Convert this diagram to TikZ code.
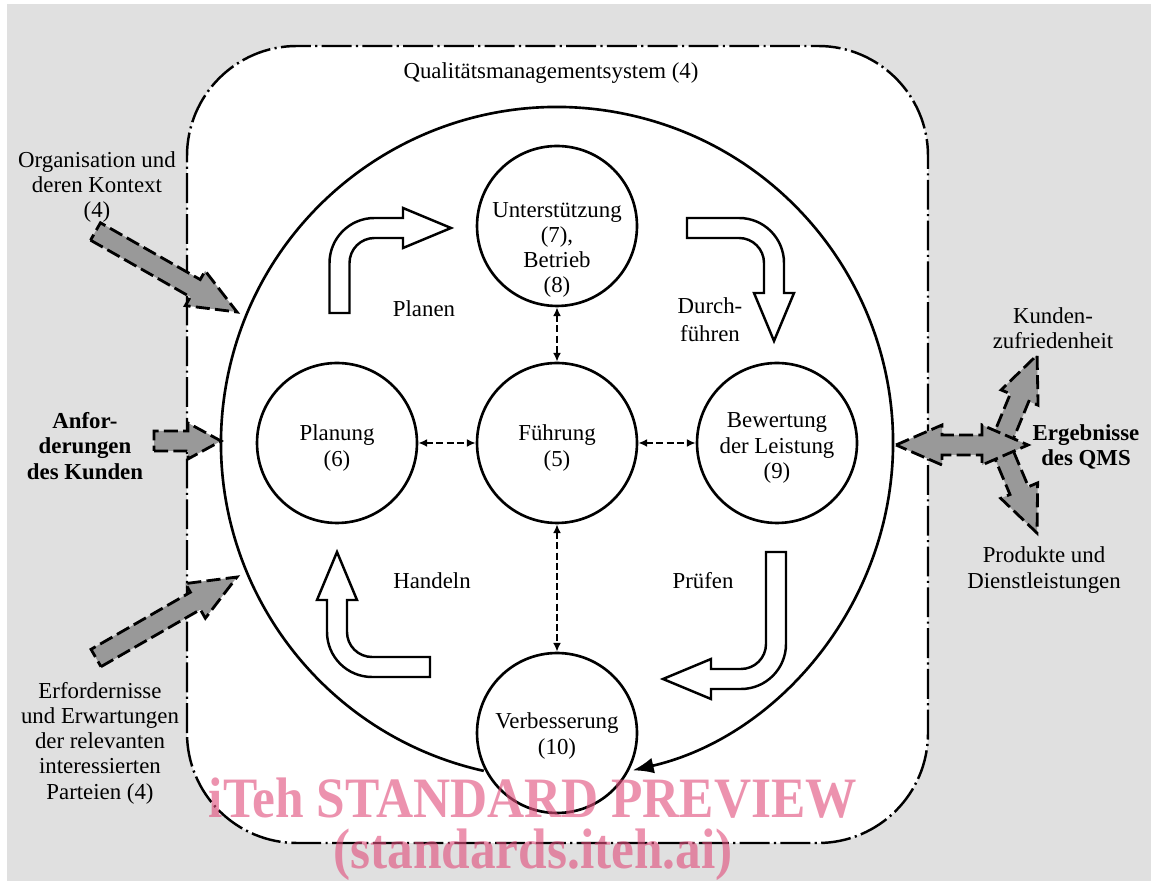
\documentclass[tikz,border=0pt]{standalone}
\usepackage{fontspec}
\setmainfont{Liberation Serif}
\usetikzlibrary{arrows.meta}
\definecolor{bggray}{RGB}{224,224,224}
\definecolor{arrgray}{RGB}{153,153,153}
\definecolor{wmpink}{RGB}{225,80,125}
\newcommand{\diagfont}{\fontsize{13}{14.4}\selectfont}
\tikzset{
  circ/.style={circle, draw, line width=1.5pt, fill=white, minimum size=3.2cm, inner sep=0pt},
  ctext/.style={align=center, font=\diagfont, inner sep=0pt, yshift=-0.1cm},
  lbl/.style={align=center, font=\diagfont, inner sep=0pt},
  blbl/.style={align=center, font=\diagfont\bfseries, inner sep=0pt},
  dconn/.style={line width=1pt, dash pattern=on 4pt off 1.8pt, {Latex[length=5pt,width=4.5pt]}-{Latex[length=5pt,width=4.5pt]}},
  bigarc/.style={line width=1.5pt, -{Latex[length=12pt,width=9pt]}},
  qmsbox/.style={fill=white, line width=1.4pt, dash pattern=on 17pt off 2.5pt on 1.2pt off 2.5pt, rounded corners=2.2cm},
  garr/.style={fill=arrgray, line width=1.6pt, dash pattern=on 8pt off 3pt, line join=miter},
  warr/.style={fill=white, line width=1.4pt, line join=miter},
  wm/.style={text=wmpink, text opacity=0.62, font=\fontsize{32.5}{40}\selectfont\bfseries, inner sep=0pt, anchor=base, xscale=0.9, transform shape},
  pics/garrow/.style n args={3}{code={%
    \draw[garr] (0,-10) -- ({#1-#2},-10) -- ({#1-#2},-#3) -- (#1,0) -- ({#1-#2},#3) -- ({#1-#2},10) -- (0,10) -- cycle;}},
  pics/darrow/.style n args={3}{code={%
    \draw[garr] (0,0) -- (#2,#3) -- (#2,10) -- ({#1-#2},10) -- ({#1-#2},#3) -- (#1,0) -- ({#1-#2},-#3) -- ({#1-#2},-10) -- (#2,-10) -- (#2,-#3) -- cycle;}},
  pics/uarrow/.style n args={2}{code={%
    \draw[warr] (-10,0) -- (-10,{#1-35}) arc[start angle=180,end angle=90,radius=45]
      -- ({#2-48},{#1+10}) -- ({#2-48},{#1+20}) -- (#2,#1) -- ({#2-48},{#1-20}) -- ({#2-48},{#1-10})
      -- (35,{#1-10}) arc[start angle=90,end angle=180,radius=25] -- (10,0) -- cycle;}},
}
\begin{document}
\begin{tikzpicture}[x=0.02cm,y=0.02cm]
\useasboundingbox (0,0) rectangle (1151,881);
\fill[white] (0,0) rectangle (1151,881);
\fill[bggray] (7,0) rectangle (1151,877);
% QMS box
\draw[qmsbox] (187,38) rectangle (928,835);
\node[lbl] (qms) at (551,808) {Qualitätsmanagementsystem (4)};
% big cycle arc
\coordinate (arcstart) at ([shift={(257.4:336)}]557,438);
\draw[bigarc] (arcstart) arc[start angle=257.4, end angle=-77, radius=336];
% circles
\node[circ, label={[ctext, yshift=-0.38cm]center:{Unterstützung\\(7),\\Betrieb\\(8)}}] (unter) at (557,655) {};
\node[circ, label={[ctext]center:{Planung\\(6)}}] (plan) at (337,438) {};
\node[circ, label={[ctext]center:{Führung\\(5)}}] (fuehr) at (557,438) {};
\node[circ, label={[ctext]center:{Bewertung\\der Leistung\\(9)}}] (bew) at (777,438) {};
\node[circ, label={[ctext,yshift=0.04cm]center:{Verbesserung\\(10)}}] (verb) at (557,148) {};
% dashed connectors
\draw[dconn] (plan) -- (fuehr);
\draw[dconn] (fuehr) -- (bew);
\draw[dconn] (unter) -- (fuehr);
\draw[dconn] (fuehr) -- (verb);
% PDCA arrows
\pic at (339.5,568) {uarrow={85}{111.5}};
\pic[rotate=-90] at (687,653) {uarrow={87}{113}};
\pic[rotate=180] at (776,329) {uarrow={127}{113}};
\pic[rotate=90] at (430,214) {uarrow={93}{115}};
\node[lbl] (planen) at (424,572) {Planen};
\node[lbl, font=\fontsize{13}{16}\selectfont] (durch) at (710,561) {Durch-\\führen};
\node[lbl] (handeln) at (432,300) {Handeln};
\node[lbl] (pruefen) at (703,300) {Prüfen};
% inputs
\pic[rotate=-29.64] at (95.5,649.5) {garrow={162.8}{48}{20}};
\pic at (154,440) {garrow={67}{33}{18}};
\pic[rotate=29.87] at (96,223) {garrow={162.6}{48}{20}};
\node[lbl] (org) at (97,694) {Organisation und\\deren Kontext\\(4)};
\node[blbl] (anf) at (85,435) {Anfor-\\derungen\\des Kunden};
\node[lbl] (erf) at (100,138) {Erfordernisse\\und Erwartungen\\der relevanten\\interessierten\\Parteien (4)};
% outputs
\pic[rotate=67.6] at (1000,436) {garrow={97.3}{46}{20}};
\pic[rotate=-67.2] at (1000,436) {garrow={95.5}{46}{20}};
\pic at (896,436) {darrow={132}{46}{20}};
\node[lbl] (kz) at (1053,553) {Kunden-\\zufriedenheit};
\node[blbl] (erg) at (1086,434) {Ergebnisse\\des QMS};
\node[lbl] (prod) at (1044,311) {Produkte und\\Dienstleistungen};
% watermark
\node[wm] (wm1) at (533,63) {iTeh STANDARD PREVIEW};
\node[wm, text height=0.62em] (wm2) at (533,12) {(standards.iteh.ai)};
\end{tikzpicture}
\end{document}
